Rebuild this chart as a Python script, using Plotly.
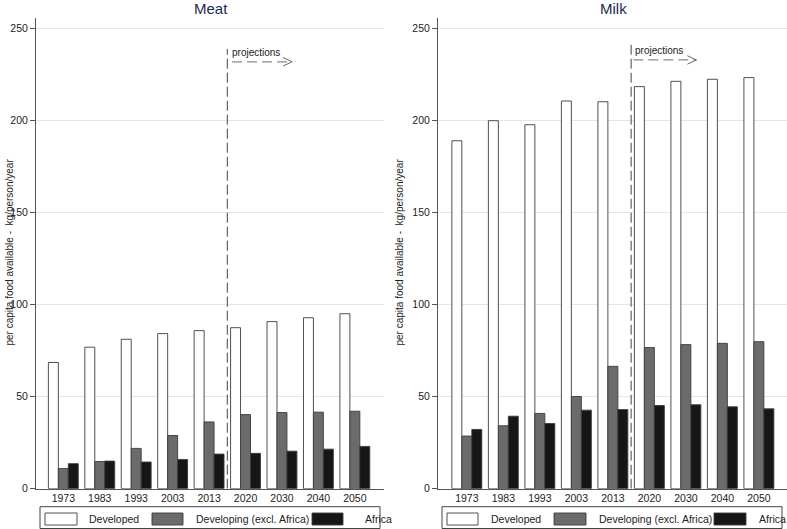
import plotly.graph_objects as go

W, H = 787, 529

years = ["1973", "1983", "1993", "2003", "2013", "2020", "2030", "2040", "2050"]
series_names = ["Developed", "Developing (excl. Africa)", "Africa"]

meat_developed = [68.6, 76.9, 81.2, 84.3, 85.9, 87.5, 90.8, 92.9, 95.1]
meat_developing = [11.0, 14.8, 21.9, 28.9, 36.3, 40.3, 41.4, 41.6, 42.1]
meat_africa = [13.6, 15.0, 14.5, 15.9, 18.8, 19.2, 20.4, 21.5, 23.0]

milk_developed = [189.1, 200.0, 197.8, 210.7, 210.3, 218.5, 221.4, 222.5, 223.4]
milk_developing = [28.6, 34.2, 40.9, 50.1, 66.5, 76.7, 78.3, 79.0, 79.9]
milk_africa = [32.2, 39.4, 35.4, 42.7, 43.0, 45.2, 45.6, 44.5, 43.4]

panel_titles = ["Meat", "Milk"]
y_title = "per capita food available -  kg/person/year"
y_ticks = [0, 50, 100, 150, 200, 250]

fills = ["#ffffff", "#6b6b6b", "#161616"]
FONT = "Liberation Sans, Arial, sans-serif"

xpos = list(range(len(years)))


def px(x):
    return x / W


def py(y):
    return 1 - y / H


fig = go.Figure()

panels = [
    (panel_titles[0], [meat_developed, meat_developing, meat_africa], "x", "y"),
    (panel_titles[1], [milk_developed, milk_developing, milk_africa], "x2", "y2"),
]

for title, vals, xa, ya in panels:
    for name, v, c in zip(series_names, vals, fills):
        fig.add_trace(go.Bar(
            x=xpos, y=v, name=name, xaxis=xa, yaxis=ya,
            marker=dict(color=c, line=dict(color="#3c3c3c", width=0.9)),
            showlegend=False, offsetgroup=name, hoverinfo="skip",
        ))

yb, yt = py(488.7), py(18)
axis_common_y = dict(
    range=[0, 255.8], tickvals=y_ticks, showgrid=True, gridcolor="#dde7ec",
    gridwidth=1, showline=True, linecolor="#555555", linewidth=1,
    ticks="outside", ticklen=5, tickcolor="#555555", zeroline=False,
    tickfont=dict(family=FONT, size=10.5, color="#222222"),
    domain=[yb, yt], automargin=False,
)
axis_common_x = dict(
    tickvals=xpos, ticktext=years, showgrid=False, showline=True,
    linecolor="#555555", linewidth=1, ticks="", zeroline=False,
    tickfont=dict(family=FONT, size=10.5, color="#222222"),
    automargin=False,
)

fig.update_layout(
    width=W, height=H, margin=dict(l=0, r=0, t=0, b=0, pad=0),
    paper_bgcolor="white", plot_bgcolor="white",
    barmode="group", bargap=0.18, bargroupgap=0,
    font=dict(family=FONT),
    xaxis=dict(domain=[px(36), px(384)], range=[-0.75, 8.8], anchor="y", **axis_common_x),
    xaxis2=dict(domain=[px(438), 1.0], range=[-0.79, 8.77], anchor="y2", **axis_common_x),
    yaxis=dict(anchor="x", **axis_common_y),
    yaxis2=dict(anchor="x2", **axis_common_y),
)

# Titles and y-axis titles
for title, cx, ytx in [(panel_titles[0], 211, 8.5), (panel_titles[1], 613, 398.5)]:
    fig.add_annotation(text=title, x=px(cx), y=py(8), xref="paper", yref="paper",
                       showarrow=False, xanchor="center", yanchor="middle",
                       font=dict(family=FONT, size=15, color="#1c2a52"))
    fig.add_annotation(text=y_title, x=px(ytx), y=py(252), xref="paper", yref="paper",
                       showarrow=False, textangle=-90, xanchor="center", yanchor="middle",
                       font=dict(family=FONT, size=10, color="#222222"))

# projection markers
proj = [
    # xref, yref, line_top, text_x, text_y, arrow_x0, arrow_x1, arrow_y
    ("x", "y", 239, 4.57, 236.8, 4.63, 6.28, 232),
    ("x2", "y2", 243, 4.54, 237.9, 4.56, 6.29, 233),
]
for xr, yr, top, tx, ty, ax0, ax1, ay in proj:
    fig.add_shape(type="line", xref=xr, yref=yr, x0=4.5, x1=4.5, y0=0, y1=top,
                  line=dict(color="#444444", width=1, dash="10px,4px"))
    fig.add_annotation(text="projections", x=tx, y=ty, xref=xr, yref=yr,
                       showarrow=False, xanchor="left", yanchor="middle",
                       font=dict(family=FONT, size=10, color="#222222"))
    fig.add_shape(type="line", xref=xr, yref=yr, x0=ax0, x1=ax1, y0=ay, y1=ay,
                  line=dict(color="#8a8a8a", width=1.3, dash="10px,5px"))
    fig.add_shape(type="path", xref=xr, yref=yr,
                  path=f"M {ax1-0.25},{ay+2.3} L {ax1},{ay} L {ax1-0.25},{ay-2.3}",
                  line=dict(color="#6a6a6a", width=1))

# Legends (drawn boxes under each panel)
legends = [
    (40, 380, [(45, 77, 87), (152, 183, 194), (312, 343, 363)]),
    (442, 782, [(447, 478, 489), (554, 586, 597), (714, 746, 757)]),
]
for bx0, bx1, items in legends:
    fig.add_shape(type="rect", xref="paper", yref="paper",
                  x0=px(bx0), x1=px(bx1), y0=py(528.5), y1=py(506.7),
                  line=dict(color="#444444", width=1), fillcolor="white")
    for (sx0, sx1, tx), name, c in zip(items, series_names, fills):
        fig.add_shape(type="rect", xref="paper", yref="paper",
                      x0=px(sx0), x1=px(sx1), y0=py(525), y1=py(513),
                      line=dict(color="#3c3c3c", width=0.9), fillcolor=c)
        fig.add_annotation(text=name, x=px(tx), y=py(519), xref="paper", yref="paper",
                           showarrow=False, xanchor="left", yanchor="middle",
                           font=dict(family=FONT, size=10.5, color="#222222"))

# remove the default page margin so the figure fills the window exactly
fig.write_html("out.html", config={"displayModeBar": False},
               post_script="document.body.style.margin='0';")
